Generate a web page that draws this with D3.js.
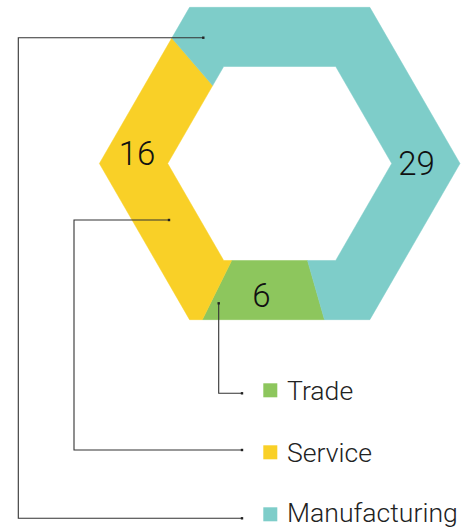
<!DOCTYPE html>
<html>
<head>
<meta charset="utf-8">
<script src="https://cdn.jsdelivr.net/npm/d3@7"></script>
<style>
  html, body { margin: 0; padding: 0; background: #fff; }
  svg { display: block; }
  text { font-family: Roboto, "Noto Sans", sans-serif; }
</style>
</head>
<body>
<svg id="chart" width="469" height="529"></svg>
<script>
// ---- data ----
const categories = ["Trade", "Service", "Manufacturing"];
const values = [6, 16, 29];
const colors = ["#8dc65d", "#f9d027", "#7ecdc9"];

// ---- layout ----
const W = 469, H = 529;
const cx = 279.7, cy = 163.5;
const outerR = 180.3, innerR = 112;
const startDeg = 164; // d3 angle (0 = 12 o'clock, clockwise) where Trade begins
const labelPos = [[261.5, 295], [137, 153], [416.5, 163]];
const anchors = [[218.7, 303.3], [169, 220], [203.3, 37.7]];
const elbowX = [218.7, 74, 18.3];
const leaderY = [393.3, 450, 518.3];
const swatchTop = [383.3, 445.3, 507.3];
const leaderEndX = 242;
const swatchX = 263.3, swatchSize = 14, legendTextX = 287;
const legendFont = 26.6;

const svg = d3.select("#chart");

const pie = d3.pie().sort(null)
  .startAngle(startDeg * Math.PI / 180)
  .endAngle(startDeg * Math.PI / 180 + 2 * Math.PI);
const arcs = pie(values);

// point on a flat-top hexagon (vertices at screen angles 0,60,...) along ray of screen angle s
function hexPoint(s, R) {
  const step = Math.PI / 3;
  let m = s % step; if (m < 0) m += step;
  const d = R * Math.cos(Math.PI / 6) / Math.cos(m - Math.PI / 6);
  return [cx + d * Math.cos(s), cy + d * Math.sin(s)];
}
function hexSlice(a0, a1) {
  const s0 = a0 - Math.PI / 2, s1 = a1 - Math.PI / 2;
  const step = Math.PI / 3;
  const mids = [];
  let k = Math.floor(s0 / step) + 1;
  while (k * step < s1 - 1e-9) { mids.push(k * step); k++; }
  const angs = [s0, ...mids, s1];
  const outer = angs.map(a => hexPoint(a, outerR));
  const inner = angs.slice().reverse().map(a => hexPoint(a, innerR));
  return d3.line()([...outer, ...inner]) + "Z";
}

svg.append("g").selectAll("path")
  .data(arcs)
  .join("path")
  .attr("d", d => hexSlice(d.startAngle, d.endAngle))
  .attr("fill", (d, i) => colors[i])
  .attr("stroke", (d, i) => colors[i])
  .attr("stroke-width", 0.5);

// value labels
svg.append("g").selectAll("text")
  .data(arcs)
  .join("text")
  .attr("x", (d, i) => labelPos[i][0])
  .attr("y", (d, i) => labelPos[i][1])
  .attr("text-anchor", "middle")
  .attr("dominant-baseline", "central")
  .attr("font-size", 33)
  .attr("font-weight", 300)
  .attr("fill", "#111")
  .text(d => d.value);

// leader lines
const lg = svg.append("g");
categories.forEach((c, i) => {
  const p = d3.path();
  p.moveTo(anchors[i][0], anchors[i][1]);
  p.lineTo(elbowX[i], anchors[i][1]);
  p.lineTo(elbowX[i], leaderY[i]);
  p.lineTo(leaderEndX, leaderY[i]);
  lg.append("path")
    .attr("d", p.toString())
    .attr("fill", "none")
    .attr("stroke", "#333")
    .attr("stroke-width", 1.1);
  [[anchors[i][0], anchors[i][1]], [leaderEndX, leaderY[i]]].forEach(pt => {
    lg.append("rect")
      .attr("x", pt[0] - 1.2).attr("y", pt[1] - 1.2)
      .attr("width", 2.4).attr("height", 2.4)
      .attr("fill", "#222");
  });
});

// legend
const leg = svg.append("g");
categories.forEach((c, i) => {
  leg.append("rect")
    .attr("x", swatchX).attr("y", swatchTop[i])
    .attr("width", swatchSize).attr("height", swatchSize)
    .attr("fill", colors[i]);
  leg.append("text")
    .attr("x", legendTextX)
    .attr("y", Math.min(swatchTop[i] + 16.5, H - 0.275 * legendFont))
    .attr("font-size", legendFont)
    .attr("font-weight", 300)
    .attr("fill", "#222")
    .text(c);
});
</script>
</body>
</html>
